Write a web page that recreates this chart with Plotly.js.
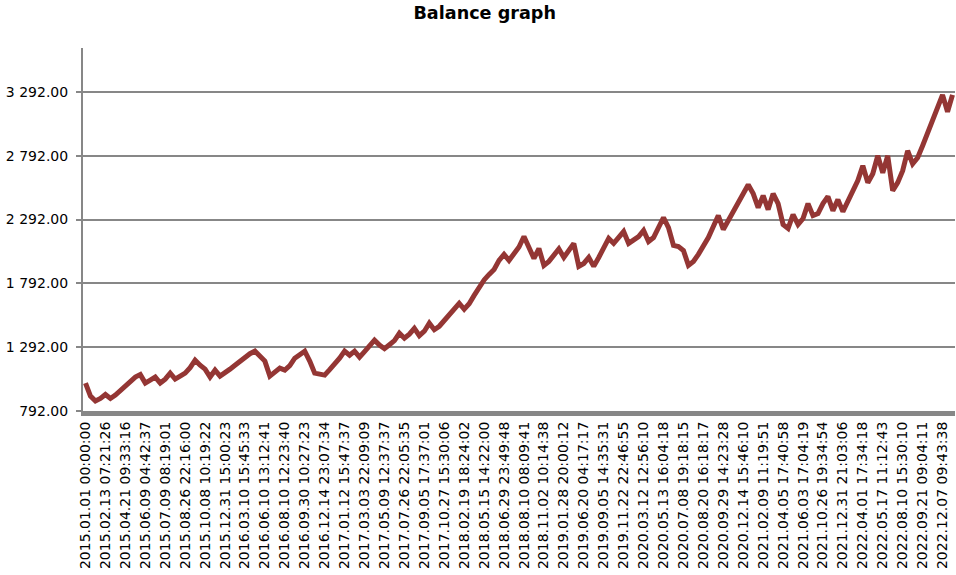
<!DOCTYPE html>
<html>
<head>
<meta charset="utf-8">
<script src="https://cdn.plot.ly/plotly-3.0.1.min.js"></script>
<style>
  html, body { margin: 0; padding: 0; background: #ffffff; }
  #chart { width: 956px; height: 575px; }
</style>
</head>
<body>
<div id="chart"></div>
<script>
// Category labels shown on the x axis (every 4th point)
const tickLabels = [
  "2015.01.01 00:00:00", "2015.02.13 07:21:26", "2015.04.21 09:33:16", "2015.06.09 04:42:37",
  "2015.07.09 08:19:01", "2015.08.26 22:16:00", "2015.10.08 10:19:22", "2015.12.31 15:00:23",
  "2016.03.10 15:45:33", "2016.06.10 13:12:41", "2016.08.10 12:23:40", "2016.09.30 10:27:23",
  "2016.12.14 23:07:34", "2017.01.12 15:47:37", "2017.03.03 22:09:09", "2017.05.09 12:37:37",
  "2017.07.26 22:05:35", "2017.09.05 17:37:01", "2017.10.27 15:30:06", "2018.02.19 18:24:02",
  "2018.05.15 14:22:00", "2018.06.29 23:49:48", "2018.08.10 08:09:41", "2018.11.02 10:14:38",
  "2019.01.28 20:00:12", "2019.06.20 04:17:17", "2019.09.05 14:35:31", "2019.11.22 22:46:55",
  "2020.03.12 12:56:10", "2020.05.13 16:04:18", "2020.07.08 19:18:15", "2020.08.20 16:18:17",
  "2020.09.29 14:23:28", "2020.12.14 15:46:10", "2021.02.09 11:19:51", "2021.04.05 17:40:58",
  "2021.06.03 17:04:19", "2021.10.26 19:34:54", "2021.12.31 21:03:06", "2022.04.01 17:34:18",
  "2022.05.17 11:12:43", "2022.08.10 15:30:10", "2022.09.21 09:04:11", "2022.12.07 09:43:38"
];
const labelEvery = 4;

// Balance values
const balance = [
  1011, 909, 870, 890, 921, 890, 917, 952, 987, 1026,
  1058, 1077, 1011, 1034, 1058, 1011, 1042, 1089, 1042, 1065,
  1089, 1132, 1190, 1151, 1120, 1058, 1112, 1065, 1089, 1120,
  1151, 1183, 1218, 1241, 1261, 1222, 1183, 1065, 1093, 1128,
  1112, 1147, 1206, 1233, 1261, 1183, 1089, 1081, 1073, 1116,
  1159, 1206, 1261, 1229, 1261, 1214, 1257, 1296, 1347, 1308,
  1280, 1311, 1343, 1401, 1362, 1394, 1440, 1382, 1417, 1480,
  1429, 1456, 1499, 1546, 1597, 1636, 1589, 1632, 1698, 1761,
  1819, 1862, 1901, 1972, 2019, 1972, 2019, 2077, 2159, 2081,
  1987, 2065, 1933, 1964, 2019, 2062, 1995, 2050, 2105, 1925,
  1948, 1995, 1925, 1995, 2073, 2144, 2105, 2151, 2198, 2105,
  2128, 2159, 2206, 2120, 2151, 2229, 2308, 2229, 2089, 2081,
  2050, 1933, 1964, 2019, 2081, 2151, 2237, 2323, 2214, 2284,
  2354, 2425, 2495, 2565, 2495, 2386, 2479, 2370, 2495, 2417,
  2253, 2222, 2331, 2253, 2300, 2417, 2323, 2339, 2417, 2472,
  2362, 2448, 2354, 2432, 2511, 2597, 2714, 2581, 2651, 2792,
  2659, 2792, 2519, 2581, 2675, 2831, 2729, 2776, 2870, 2972,
  3065, 3167, 3269, 3136, 3269
];

const yMin = 792;
const yMax = 3636;
const yStep = 500;

const xIdx = balance.map((_, i) => i);
const tickVals = tickLabels.map((_, j) => j * labelEvery);

const trace = {
  x: xIdx,
  y: balance,
  type: 'scatter',
  mode: 'lines',
  line: { color: '#943634', width: 5, shape: 'linear' },
  hoverinfo: 'skip'
};

const layout = {
  width: 956,
  height: 575,
  margin: { l: 83, r: 1, t: 48, b: 164, pad: 0 },
  paper_bgcolor: '#ffffff',
  plot_bgcolor: '#ffffff',
  separators: '. ',
  showlegend: false,
  font: { family: 'DejaVu Sans, Verdana, sans-serif', size: 14, color: '#000000' },
  title: {
    text: '<b>Balance graph</b>',
    font: { family: 'DejaVu Sans, Verdana, sans-serif', size: 17.6, color: '#000000' },
    x: 0.507, xanchor: 'center', xref: 'container',
    y: 0.978, yanchor: 'middle', yref: 'container'
  },
  xaxis: {
    range: [-0.5, balance.length - 0.5],
    tickmode: 'array',
    tickvals: tickVals,
    ticktext: tickLabels,
    tickangle: -90,
    ticks: '',
    showgrid: false,
    zeroline: false,
    showline: true,
    linecolor: '#878787',
    linewidth: 5,
    tickfont: { family: 'DejaVu Sans, Verdana, sans-serif', size: 14, color: '#000000' },
    fixedrange: true
  },
  yaxis: {
    range: [yMin, yMax],
    tick0: yMin,
    dtick: yStep,
    tickmode: 'linear',
    tickformat: ',.2f',
    ticks: 'outside',
    ticklen: 5,
    tickwidth: 2,
    tickcolor: '#878787',
    ticklabelstandoff: 5,
    showgrid: true,
    gridcolor: '#878787',
    gridwidth: 2,
    zeroline: false,
    showline: true,
    linecolor: '#878787',
    linewidth: 2,
    tickfont: { family: 'DejaVu Sans, Verdana, sans-serif', size: 14, color: '#000000' },
    fixedrange: true
  }
};

Plotly.newPlot('chart', [trace], layout, { displayModeBar: false, staticPlot: true });
</script>
</body>
</html>
